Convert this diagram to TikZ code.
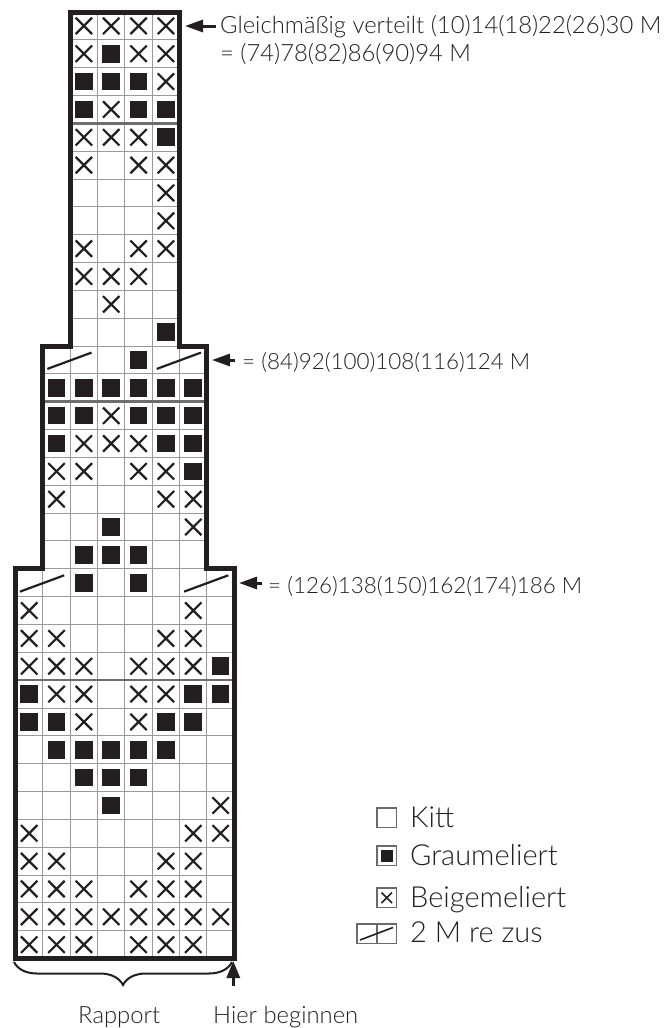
\documentclass[tikz,border=0pt]{standalone}
\usepackage{fontspec}
\setmainfont{Lato}[UprightFont={* Light}]
\usetikzlibrary{arrows.meta,decorations.pathreplacing,calc}
\definecolor{ink}{HTML}{231F20}
\definecolor{gridgray}{HTML}{9A9A9A}
\definecolor{sepgray}{HTML}{6E6E6E}
\definecolor{boxgray}{HTML}{6A6A6A}
\def\cw{27.35}
\def\ch{27.84}
\def\xo{15.5}
\def\yo{12}
\begin{document}
\begin{tikzpicture}[x=1pt,y=-1pt,
  gridline/.style={draw=gridgray, line width=1pt},
  sepline/.style={draw=sepgray, line width=2.6pt},
  outline/.style={draw=ink, line width=5pt, line join=miter},
  xmark/.style={draw=ink, line width=2.2pt},
  bmark/.style={fill=ink},
  slantmark/.style={draw=ink, line width=2.2pt},
  sidearrow/.style={draw=ink, line width=3pt, -{Triangle[length=18pt,width=12pt]}},
  uparrow/.style={draw=ink, line width=3pt, -{Triangle[length=17pt,width=13pt]}},
  lbl/.style={anchor=base west, inner sep=0pt, font=\fontsize{22.4}{26}\selectfont, text=ink},
  lblbig/.style={anchor=base west, inner sep=0pt, font=\fontsize{23.8}{28}\selectfont, text=ink},
  leg/.style={anchor=base west, inner sep=0pt, font=\fontsize{29}{32}\selectfont, text=ink},
  legbox/.style={draw=boxgray, line width=1.3pt, fill=white},
  legx/.style={draw=ink, line width=1.6pt},
  bracestyle/.style={draw=ink, line width=2pt, decorate, decoration={brace, mirror, amplitude=23pt}}
]
\useasboundingbox (0,0) rectangle (664,1028);
% ---------- grid lines ----------
% top section: cols 2..6, rows 0..12
\foreach \k in {3,4,5} \draw[gridline] ({\xo+\k*\cw},{\yo}) -- ({\xo+\k*\cw},{\yo+12*\ch});
\foreach \j in {1,...,11} \draw[gridline] ({\xo+2*\cw},{\yo+\j*\ch}) -- ({\xo+6*\cw},{\yo+\j*\ch});
% middle section: cols 1..7, rows 12..20
\foreach \k in {2,...,6} \draw[gridline] ({\xo+\k*\cw},{\yo+12*\ch}) -- ({\xo+\k*\cw},{\yo+20*\ch});
\foreach \j in {12,...,19} \draw[gridline] ({\xo+1*\cw},{\yo+\j*\ch}) -- ({\xo+7*\cw},{\yo+\j*\ch});
% bottom section: cols 0..8, rows 20..34
\foreach \k in {1,...,7} \draw[gridline] ({\xo+\k*\cw},{\yo+20*\ch}) -- ({\xo+\k*\cw},{\yo+34*\ch});
\foreach \j in {20,...,33} \draw[gridline] ({\xo},{\yo+\j*\ch}) -- ({\xo+8*\cw},{\yo+\j*\ch});
% repeat separators
\draw[sepline] ({\xo+2*\cw},{\yo+4*\ch}) -- ({\xo+6*\cw},{\yo+4*\ch});
\draw[sepline] ({\xo+1*\cw},{\yo+14*\ch}) -- ({\xo+7*\cw},{\yo+14*\ch});
\draw[sepline] ({\xo},{\yo+24*\ch}) -- ({\xo+8*\cw},{\yo+24*\ch});
% ---------- X marks ----------
\foreach \c/\r in {2/0,3/0,4/0,5/0, 2/1,4/1,5/1, 5/2, 3/3, 2/4,3/4,4/4, 2/5,4/5,5/5,
  5/6, 5/7, 2/8,4/8,5/8, 2/9,3/9,4/9, 3/10,
  3/14, 2/15,3/15,4/15, 1/16,2/16,4/16,5/16, 1/17,5/17,6/17, 6/18,
  0/21,6/21, 0/22,1/22,5/22,6/22, 0/23,1/23,2/23,4/23,5/23,6/23,
  1/24,2/24,4/24,5/24, 2/25,4/25, 7/28, 0/29,6/29,7/29,
  0/30,1/30,5/30,6/30, 0/31,1/31,2/31,4/31,5/31,6/31,
  0/32,1/32,2/32,3/32,4/32,5/32,6/32,7/32, 0/33,1/33,2/33,4/33,5/33,6/33}
{
  \pgfmathsetmacro\cx{\xo+(\c+0.5)*\cw}
  \pgfmathsetmacro\cy{\yo+(\r+0.5)*\ch}
  \draw[xmark] (\cx-8.2,\cy-8.2) -- (\cx+8.2,\cy+8.2) (\cx-8.2,\cy+8.2) -- (\cx+8.2,\cy-8.2);
}
% ---------- filled squares ----------
\foreach \c/\r in {3/1, 2/2,3/2,4/2, 2/3,4/3,5/3, 5/4, 5/11,
  4/12, 1/13,2/13,3/13,4/13,5/13,6/13, 1/14,2/14,4/14,5/14,6/14,
  1/15,5/15,6/15, 6/16, 3/18, 2/19,3/19,4/19,
  2/20,4/20, 7/23, 0/24,6/24,7/24, 0/25,1/25,5/25,6/25,
  1/26,2/26,3/26,4/26,5/26, 2/27,3/27,4/27, 3/28}
{
  \pgfmathsetmacro\cx{\xo+(\c+0.5)*\cw}
  \pgfmathsetmacro\cy{\yo+(\r+0.5)*\ch}
  \fill[bmark] (\cx-8.8,\cy-8.8) rectangle (\cx+8.8,\cy+8.8);
}
% ---------- slants (2 M re zus) ----------
\foreach \c/\r in {1/12,5/12,0/20,6/20}
{
  \draw[slantmark] ({\xo+\c*\cw+4.5},{\yo+(\r+1)*\ch-5}) -- ({\xo+(\c+2)*\cw-6},{\yo+\r*\ch+6.5});
}
% ---------- outline ----------
\draw[outline]
  ({\xo},{\yo+34*\ch}) -- ({\xo},{\yo+20*\ch}) -- ({\xo+1*\cw},{\yo+20*\ch})
  -- ({\xo+1*\cw},{\yo+12*\ch}) -- ({\xo+2*\cw},{\yo+12*\ch}) -- ({\xo+2*\cw},{\yo})
  -- ({\xo+6*\cw},{\yo}) -- ({\xo+6*\cw},{\yo+12*\ch}) -- ({\xo+7*\cw},{\yo+12*\ch})
  -- ({\xo+7*\cw},{\yo+20*\ch}) -- ({\xo+8*\cw},{\yo+20*\ch}) -- ({\xo+8*\cw},{\yo+34*\ch})
  -- cycle;
% ---------- labels and arrows ----------
\coordinate (tipA) at (185,26);
\coordinate (tipB) at (212,360);
\coordinate (tipC) at (239,583);
\node[lblbig] (labA) at (220,33) {Gleichmäßig verteilt (10)14(18)22(26)30 M};
\node[lblbig] (labAb) at (220,61) {= (74)78(82)86(90)94 M};
\node[lbl] (labB) at (242,369) {= (84)92(100)108(116)124 M};
\node[lbl] (labC) at (268,593) {= (126)138(150)162(174)186 M};
\draw[sidearrow, shorten <=4pt] (tipA -| labA.west) -- (tipA);
\draw[sidearrow, shorten <=7pt] (tipB -| labB.west) -- (tipB);
\draw[sidearrow, shorten <=6pt] (tipC -| labC.west) -- (tipC);
% ---------- legend ----------
\node[leg] (lk) at (410,827) {Kitt};
\node[leg] (lg) at (410,865) {Graumeliert};
\node[leg] (lb) at (410,907) {Beigemeliert};
\node[leg] (lz) at (410,942) {2 M re zus};
\draw[legbox] (377,808) rectangle (396.5,827.5);
\draw[legbox] (377,846) rectangle (396.5,865.5);
\fill[ink] (380.5,849.5) rectangle (393,862);
\draw[legbox] (377,888) rectangle (396.5,907.5);
\draw[legx] (381.5,892.5) -- (392,903) (381.5,903) -- (392,892.5);
\draw[legbox] (357,924) rectangle (396.5,943.5);
\draw[boxgray, line width=1.3pt] (377,924) -- (377,943.5);
\draw[ink, line width=1.6pt] (360,940) -- (393,927.5);
% ---------- bottom ----------
\draw[bracestyle] (14,962) -- (232,962);
\node[lblbig] (rap) at (78,1023) {Rapport};
\node[lblbig] (hier) at (213,1023) {Hier beginnen};
\coordinate (tipD) at ({\xo+8*\cw-1},961);
\draw[uparrow, shorten <=19pt] (tipD |- hier.north) -- (tipD);
\end{tikzpicture}
\end{document}
